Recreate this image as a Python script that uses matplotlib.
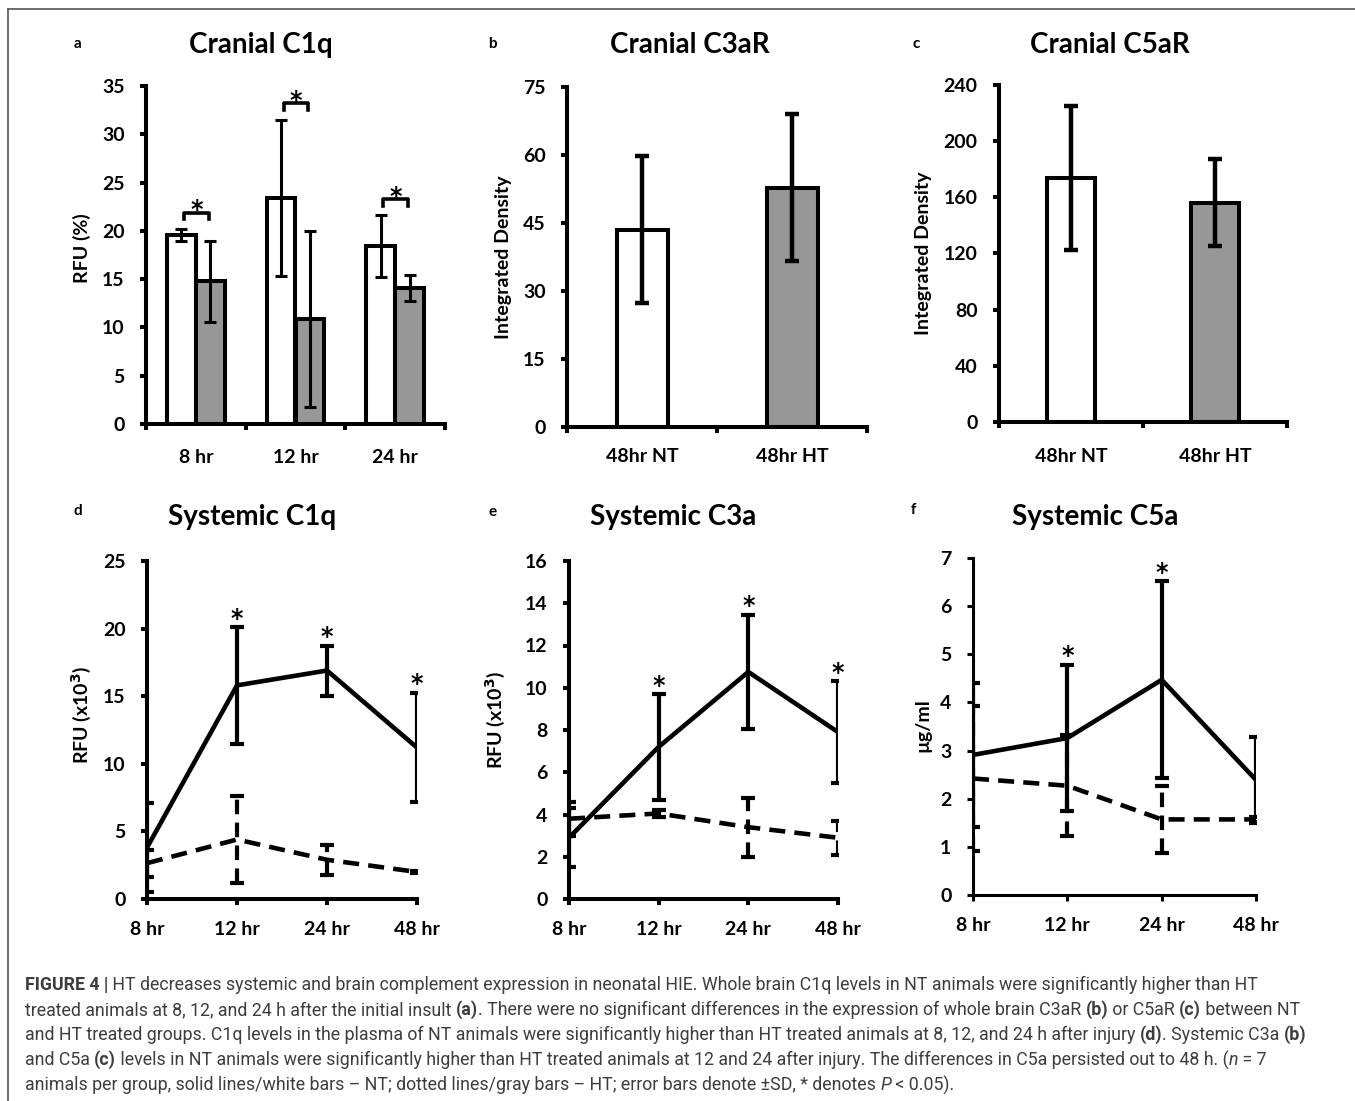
import numpy as np
import matplotlib
matplotlib.use("Agg")
import matplotlib.pyplot as plt
from matplotlib.lines import Line2D

W, H = 1355, 1101
DPI = 100

# panel a - cranial C1q (bars)
c1q_groups = ["8 hr", "12 hr", "24 hr"]
c1q_nt = [19.6, 23.4, 18.4]
c1q_nt_sd = [0.6, 8.1, 3.2]
c1q_ht = [14.8, 10.9, 14.1]
c1q_ht_sd = [4.2, 9.1, 1.35]

# panels b, c - cranial receptors (bars)
cran_groups = ["48hr NT", "48hr HT"]
c3ar_vals = [43.5, 52.8]
c3ar_sd = [16.2, 16.2]
c5ar_vals = [173.8, 156.0]
c5ar_sd = [51.0, 31.0]

# panels d, e, f - systemic (lines)
times = ["8 hr", "12 hr", "24 hr", "48 hr"]
sc1q_nt = [3.8, 15.8, 16.9, 11.2]
sc1q_nt_sd = [3.3, 4.3, 1.85, 4.05]
sc1q_ht = [2.65, 4.4, 2.9, 2.0]
sc1q_ht_sd = [1.0, 3.25, 1.1, 0.1]
sc1q_sig = [False, True, True, True]

sc3a_nt = [2.9, 7.2, 10.75, 7.9]
sc3a_nt_sd = [1.4, 2.5, 2.7, 2.4]
sc3a_ht = [3.8, 4.05, 3.4, 2.9]
sc3a_ht_sd = [0.8, 0.15, 1.4, 0.8]
sc3a_sig = [False, True, True, True]

sc5a_nt = [2.91, 3.26, 4.47, 2.39]
sc5a_nt_sd = [1.5, 1.52, 2.05, 0.9]
sc5a_ht = [2.42, 2.27, 1.57, 1.57]
sc5a_ht_sd = [1.5, 1.05, 0.7, 0.05]
sc5a_sig = [False, True, True, False]

caption = [
    [("FIGURE 4 |", "b"),
     (" HT decreases systemic and brain complement expression in neonatal HIE. Whole brain C1q levels in NT animals were significantly higher than HT", "n")],
    [("treated animals at 8, 12, and 24 h after the initial insult ", "n"), ("(a)", "b"),
     (". There were no significant differences in the expression of whole brain C3aR ", "n"), ("(b)", "b"),
     (" or C5aR ", "n"), ("(c)", "b"), (" between NT", "n")],
    [("and HT treated groups. C1q levels in the plasma of NT animals were significantly higher than HT treated animals at 8, 12, and 24 h after injury ", "n"),
     ("(d)", "b"), (". Systemic C3a ", "n"), ("(b)", "b")],
    [("and C5a ", "n"), ("(c)", "b"),
     (" levels in NT animals were significantly higher than HT treated animals at 12 and 24 after injury. The differences in C5a persisted out to 48 h. (", "n"),
     ("n", "i"), (" = 7", "n")],
    [("animals per group, solid lines/white bars \u2013 NT; dotted lines/gray bars \u2013 HT; error bars denote \u00b1SD, * denotes ", "n"),
     ("P", "i"), (" < 0.05).", "n")],
]

plt.rcParams["font.family"] = ["Lato", "DejaVu Sans"]
plt.rcParams["font.weight"] = "bold"

GRAY = "#979797"
DASH = (0, (3.5, 2))
STAR = dict(family="DejaVu Sans", fontsize=17, fontweight="bold", ha="center", va="baseline")

fig = plt.figure(figsize=(W / DPI, H / DPI), dpi=DPI)


def px_axes(l, r, t, b):
    return fig.add_axes([l / W, 1 - b / H, (r - l) / W, (b - t) / H])


def style(ax, ymax, step, lw=2.9):
    for s in ["top", "right"]:
        ax.spines[s].set_visible(False)
    for s in ["left", "bottom"]:
        ax.spines[s].set_linewidth(lw)
    ax.set_ylim(0, ymax)
    ax.set_yticks(np.arange(0, ymax + step / 2, step))
    ax.tick_params(axis="y", direction="out", width=lw, length=4.5, labelsize=14, pad=11)
    ax.tick_params(axis="x", direction="out", width=lw, length=4.5, labelsize=14)


def ylabel(ax, text, xpx, ypx):
    fig.text(xpx / W, 1 - ypx / H, text, rotation=90, ha="center", va="center", fontsize=14)


def heading(letter, lx, ly, title, tx, ty):
    fig.text(lx / W, 1 - ly / H, letter, ha="center", va="center", fontsize=11)
    fig.text(tx / W, 1 - ty / H, title, ha="center", va="center", fontsize=20)


def bar_labels(ax, labels, pad):
    n = len(labels)
    ax.set_xlim(-0.5, n - 0.5)
    ax.set_xticks(np.arange(n))
    ax.set_xticklabels(labels)
    ax.set_xticks(np.arange(n + 1) - 0.5, minor=True)
    ax.tick_params(axis="x", which="major", length=0, pad=pad)
    ax.tick_params(axis="x", which="minor", direction="out", width=2.9, length=4.5)


# ---- a
ax = px_axes(146, 445, 86, 424)
x = np.arange(len(c1q_groups))
ekw = dict(ecolor="black", elinewidth=2.2, capsize=4.5, capthick=2.2)
ax.bar(x - 0.145, c1q_nt, 0.29, color="white", edgecolor="black", linewidth=2.9,
       yerr=c1q_nt_sd, error_kw=ekw)
ax.bar(x + 0.145, c1q_ht, 0.29, color=GRAY, edgecolor="black", linewidth=2.9,
       yerr=c1q_ht_sd, error_kw=ekw)
for i in x:
    top = max(c1q_nt[i] + c1q_nt_sd[i], c1q_ht[i] + c1q_ht_sd[i]) + 1.7
    ax.plot([i - 0.12, i - 0.12, i + 0.13, i + 0.13], [top - 0.7, top, top, top - 0.7],
            color="black", lw=2.6, clip_on=False)
    ax.annotate("*", (i + 0.005, top), xytext=(0, -3.5), textcoords="offset points", **STAR)
style(ax, 35, 5)
bar_labels(ax, c1q_groups, 18)
ylabel(ax, "RFU (%)", 82, 248)
heading("a", 78, 44, "Cranial C1q", 261, 45)

# ---- b, c
ekw2 = dict(ecolor="black", elinewidth=3.2, capsize=5, capthick=3.2)
for box, vals, sd, ymax, step, pad, lab, ttl in [
    ((567, 867, 87, 427), c3ar_vals, c3ar_sd, 75, 15, 15, (503, 257), ("b", 492, 44, "Cranial C3aR", 690, 45)),
    ((999, 1287, 85, 422), c5ar_vals, c5ar_sd, 240, 40, 18.5, (923, 253), ("c", 916, 44, "Cranial C5aR", 1110, 45)),
]:
    ax = px_axes(*box)
    x = np.arange(len(cran_groups))
    ax.bar(x, vals, 0.34, color=["white", GRAY], edgecolor="black", linewidth=2.9,
           yerr=sd, error_kw=ekw2)
    style(ax, ymax, step)
    bar_labels(ax, cran_groups, pad)
    ylabel(ax, "Integrated Density", *lab)
    heading(*ttl)


# ---- d, e, f
def line_panel(ax, nt, nt_sd, ht, ht_sd, sig):
    x = np.arange(len(times))
    ax.errorbar(x, nt, yerr=nt_sd, color="black", lw=3.3, elinewidth=3.0,
                capsize=5, capthick=3.0)
    e2 = ax.errorbar(x, ht, yerr=ht_sd, color="black", lw=3.3, ls=DASH,
                     elinewidth=3.0, capsize=5, capthick=3.0)
    e2[2][0].set_linestyle(DASH)
    for i in x:
        if sig[i]:
            ax.annotate("*", (i, nt[i] + nt_sd[i]), xytext=(0, 1), textcoords="offset points", **STAR)
    ax.set_xlim(0, len(times) - 1)
    ax.set_xticks(x)
    ax.set_xticklabels(times)
    ax.tick_params(axis="x", pad=11)


ax = px_axes(147, 417, 561, 899)
style(ax, 25, 5)
line_panel(ax, sc1q_nt, sc1q_nt_sd, sc1q_ht, sc1q_ht_sd, sc1q_sig)
ylabel(ax, "RFU (x10$^{3}$)", 81, 715)
heading("d", 78, 511, "Systemic C1q", 252, 517)

ax = px_axes(569, 838, 561, 899)
style(ax, 16, 2)
line_panel(ax, sc3a_nt, sc3a_nt_sd, sc3a_ht, sc3a_ht_sd, sc3a_sig)
ylabel(ax, "RFU (x10$^{3}$)", 495, 720)
heading("e", 493, 512, "Systemic C3a", 673, 517)

ax = px_axes(973, 1256, 558, 895)
style(ax, 7, 1, lw=2.2)
line_panel(ax, sc5a_nt, sc5a_nt_sd, sc5a_ht, sc5a_ht_sd, sc5a_sig)
ylabel(ax, "\u00b5g/ml", 923, 725)
heading("f", 913, 510, "Systemic C5a", 1095, 517)

# frame lines
fig.add_artist(Line2D([8 / W, 1], [1 - 9 / H, 1 - 9 / H], color="#555555", lw=1.2))
fig.add_artist(Line2D([8 / W, 8 / W], [0, 1 - 9 / H], color="#555555", lw=1.2))

# caption
renderer = fig.canvas.get_renderer()
CAP_FS = 12.8
CAP_COLOR = "#3d3d3d"


def cap_prop(kind):
    return dict(family=["Roboto", "DejaVu Sans"], fontsize=CAP_FS,
                weight="bold" if kind == "b" else "normal",
                style="italic" if kind == "i" else "normal")


def width_px(s, kind):
    t = fig.text(0, 0, "|" + s + "|", **cap_prop(kind))
    w1 = t.get_window_extent(renderer).width
    t.set_text("||")
    w0 = t.get_window_extent(renderer).width
    t.remove()
    return w1 - w0


ypos = 985
for line in caption:
    xpos = 25
    for s, kind in line:
        fig.text(xpos / W, 1 - ypos / H, s, va="center", ha="left", color=CAP_COLOR, **cap_prop(kind))
        xpos += width_px(s, kind)
    ypos += 25

fig.savefig("out.png", dpi=DPI)
